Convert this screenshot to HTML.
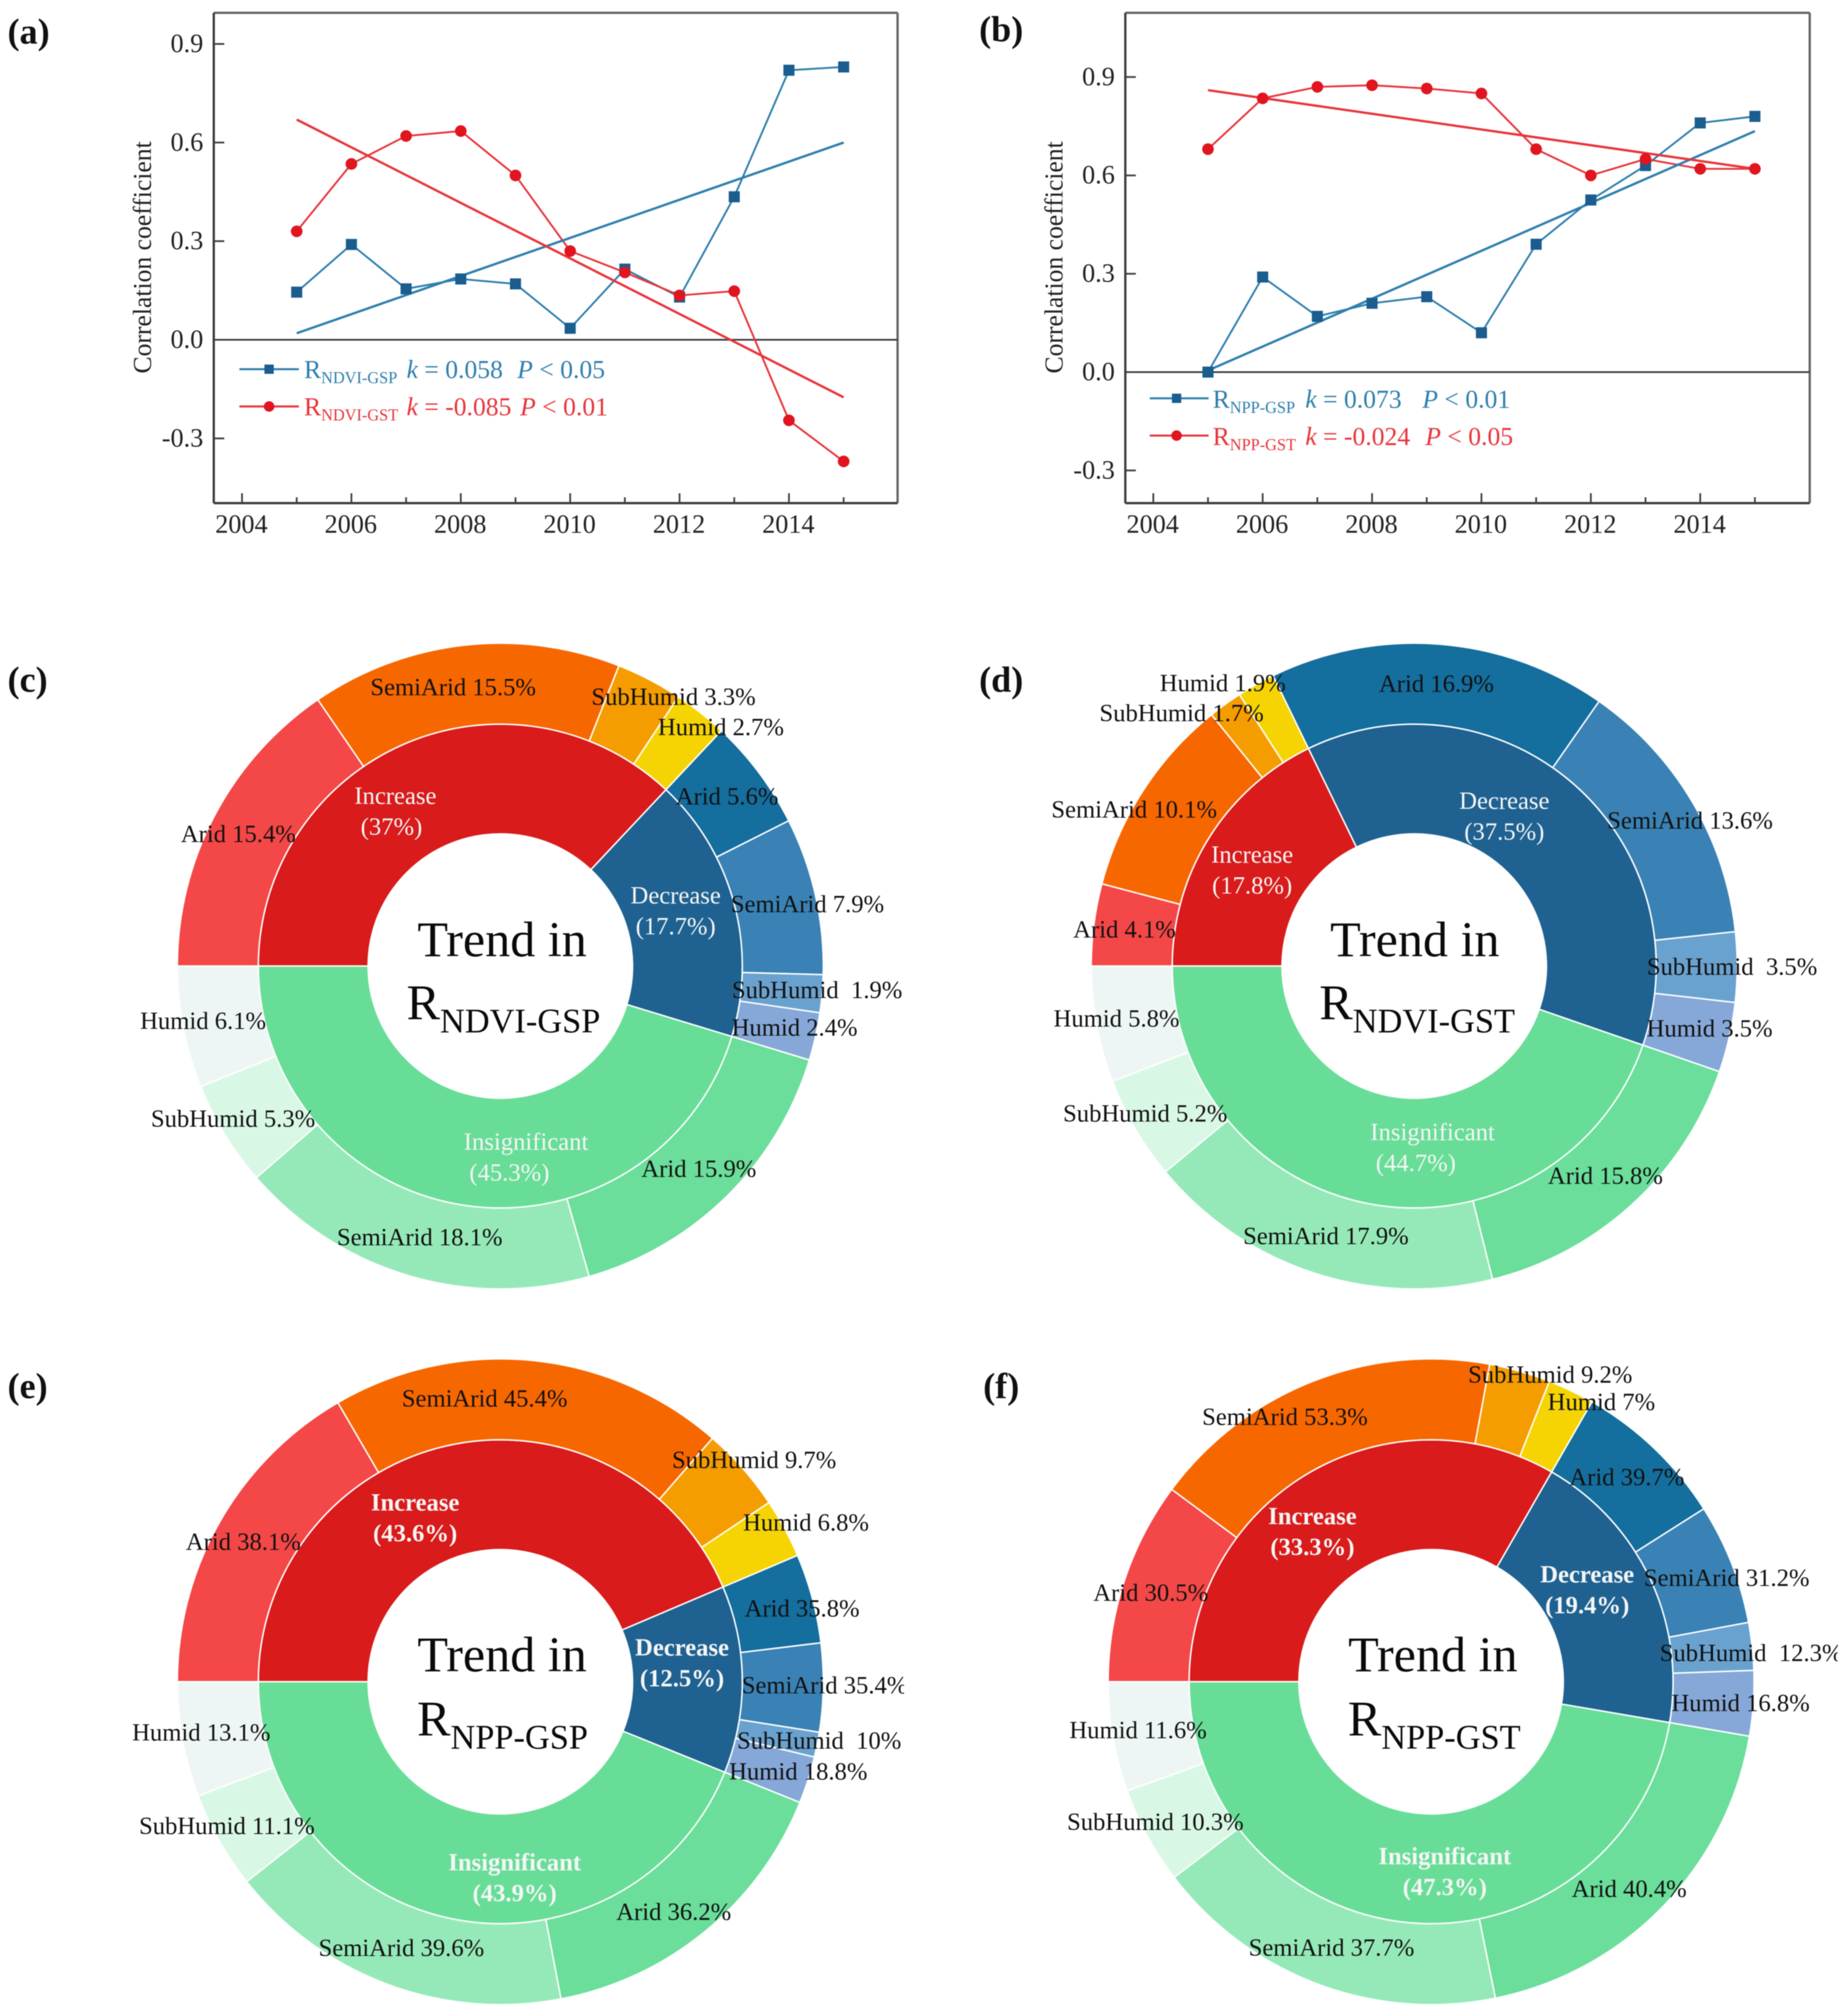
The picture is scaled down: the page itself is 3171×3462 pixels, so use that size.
<!DOCTYPE html>
<html lang="en">
<head>
<meta charset="utf-8">
<title>Correlation coefficient trends and trend composition donuts</title>
<style>
html,body{margin:0;padding:0;background:#fff;}
svg{display:block;font-family:"Liberation Serif",serif;filter:blur(0.8px);}
.tick{font-size:45px;fill:#222;}
.panel{font-size:62px;font-weight:bold;fill:#111;}
.leg{font-size:44px;}
.sub{font-size:28px;}
.outer-label{font-size:42.3px;fill:#111;white-space:pre;text-anchor:middle;dominant-baseline:central;}
.inner-label{font-size:42.3px;fill:#f6f6f6;text-anchor:middle;dominant-baseline:central;}
.center{font-size:86px;fill:#0a0a0a;}
.center-sub{font-size:59px;}
</style>
</head>
<body>
<svg id="figure" xmlns="http://www.w3.org/2000/svg" width="3171" height="3462" viewBox="0 0 3171 3462">
  <defs>
    <clipPath id="left-clip"><rect x="0" y="0" width="1552" height="3462"/></clipPath>
    <clipPath id="right-clip"><rect x="1600" y="0" width="1555" height="3462"/></clipPath>
  </defs>
  <rect x="0" y="0" width="3171" height="3462" fill="#ffffff"/>

  <text class="panel" x="13" y="75">(a)</text>
  <text class="panel" x="1681" y="71">(b)</text>
  <text class="panel" x="13" y="1188">(c)</text>
  <text class="panel" x="1681" y="1188">(d)</text>
  <text class="panel" x="13" y="2401">(e)</text>
  <text class="panel" x="1688" y="2401">(f)</text>

  <g id="chart-a"></g>
  <g id="chart-b"></g>

  <g>
    <text class="leg" x="522" y="649" fill="#2f7fae">R<tspan class="sub" dy="9">NDVI-GSP</tspan><tspan x="698" y="649" font-style="italic">k</tspan> = 0.058<tspan x="888" font-style="italic">P</tspan> &lt; 0.05</text>
    <text class="leg" x="522" y="713" fill="#e8353b">R<tspan class="sub" dy="9">NDVI-GST</tspan><tspan x="698" y="713" font-style="italic">k</tspan> = -0.085<tspan x="893" font-style="italic">P</tspan> &lt; 0.01</text>
    <line x1="411" y1="634" x2="513" y2="634" stroke="#2f7fae" stroke-width="3.5"/>
    <rect x="454" y="626" width="16" height="16" fill="#1a5d8e"/>
    <line x1="411" y1="698" x2="513" y2="698" stroke="#e8353b" stroke-width="3.5"/>
    <circle cx="462" cy="698" r="9" fill="#e0151f"/>
  </g>
  <g>
    <text class="leg" x="2082" y="700" fill="#2f7fae">R<tspan class="sub" dy="9">NPP-GSP</tspan><tspan x="2241" y="700" font-style="italic">k</tspan> = 0.073<tspan x="2442" font-style="italic">P</tspan> &lt; 0.01</text>
    <text class="leg" x="2082" y="764" fill="#e8353b">R<tspan class="sub" dy="9">NPP-GST</tspan><tspan x="2241" y="764" font-style="italic">k</tspan> = -0.024<tspan x="2447" font-style="italic">P</tspan> &lt; 0.05</text>
    <line x1="1974" y1="684" x2="2075" y2="684" stroke="#2f7fae" stroke-width="3.5"/>
    <rect x="2012" y="676" width="16" height="16" fill="#1a5d8e"/>
    <line x1="1974" y1="748" x2="2075" y2="748" stroke="#e8353b" stroke-width="3.5"/>
    <circle cx="2020" cy="748" r="9" fill="#e0151f"/>
  </g>

  <g id="donut-c"></g>
  <g id="donut-d"></g>
  <g id="donut-e"></g>
  <g id="donut-f"></g>

  <g>
    <text class="center" x="862" y="1642" text-anchor="middle">Trend in</text>
    <text class="center" x="698" y="1750">R<tspan class="center-sub" dy="23">NDVI-GSP</tspan></text>
  </g>
  <g>
    <text class="center" x="2429" y="1642" text-anchor="middle">Trend in</text>
    <text class="center" x="2265" y="1750">R<tspan class="center-sub" dy="23">NDVI-GST</tspan></text>
  </g>
  <g>
    <text class="center" x="862" y="2870" text-anchor="middle">Trend in</text>
    <text class="center" x="716" y="2980">R<tspan class="center-sub" dy="23">NPP-GSP</tspan></text>
  </g>
  <g>
    <text class="center" x="2460" y="2870" text-anchor="middle">Trend in</text>
    <text class="center" x="2314" y="2980">R<tspan class="center-sub" dy="23">NPP-GST</tspan></text>
  </g>
</svg>

<script>
// ---- line chart data ----
const years = [2005,2006,2007,2008,2009,2010,2011,2012,2013,2014,2015];
const xMajorTicks = [2004,2006,2008,2010,2012,2014];
const xMinorTicks = [2005,2007,2009,2011,2013,2015];
const yTicks = [-0.3,0,0.3,0.6,0.9];
const trendYears = [2005,2015];

const ndviGsp = [0.145,0.29,0.155,0.185,0.17,0.035,0.215,0.13,0.435,0.82,0.83];
const ndviGst = [0.33,0.535,0.62,0.635,0.5,0.27,0.205,0.135,0.148,-0.245,-0.37];
const ndviGspTrend = [0.02,0.6];
const ndviGstTrend = [0.67,-0.175];

const nppGsp = [0,0.29,0.17,0.21,0.23,0.12,0.39,0.525,0.63,0.76,0.78];
const nppGst = [0.68,0.835,0.87,0.875,0.865,0.85,0.68,0.6,0.65,0.62,0.62];
const nppGspTrend = [0.005,0.735];
const nppGstTrend = [0.86,0.62];

// ---- donut data ----
const climateZones = ['Arid','SemiArid','SubHumid','Humid'];
const trendClasses = ['Increase','Decrease','Insignificant'];

const cTrend = [37,17.7,45.3];
const cIncrease = [15.4,15.5,3.3,2.7];
const cDecrease = [5.6,7.9,1.9,2.4];
const cInsignificant = [15.9,18.1,5.3,6.1];

const dTrend = [17.8,37.5,44.7];
const dIncrease = [4.1,10.1,1.7,1.9];
const dDecrease = [16.9,13.6,3.5,3.5];
const dInsignificant = [15.8,17.9,5.2,5.8];

const eTrend = [43.6,12.5,43.9];
const eIncrease = [38.1,45.4,9.7,6.8];
const eDecrease = [35.8,35.4,10,18.8];
const eInsignificant = [36.2,39.6,11.1,13.1];

const fTrend = [33.3,19.4,47.3];
const fIncrease = [30.5,53.3,9.2,7];
const fDecrease = [39.7,31.2,12.3,16.8];
const fInsignificant = [40.4,37.7,10.3,11.6];

// ---- helpers ----
const SVGNS = 'http://www.w3.org/2000/svg';
function make(parent, tag, attrs, text) {
  const el = document.createElementNS(SVGNS, tag);
  for (const k in attrs) el.setAttribute(k, attrs[k]);
  if (text !== undefined) el.textContent = text;
  parent.appendChild(el);
  return el;
}
const AXIS = '#3f3f3f', AXIS_LIGHT = '#666666';
const BLUE = '#2f7fae', BLUE_DARK = '#1a5d8e', RED = '#e8353b', RED_DARK = '#e0151f';

function drawLineChart(rootId, frame, seriesGsp, seriesGst, trendGsp, trendGst, tag) {
  const root = document.getElementById(rootId);
  const x = v => frame.x2004 + (v - 2004) * frame.perYear;
  const y = v => frame.y0 - v * frame.perUnit;

  let el = make(root, 'line', {x1: frame.left, x2: frame.right, y1: frame.top, y2: frame.top, stroke: AXIS_LIGHT, 'stroke-width': 4});
  
  

  el = make(root, 'line', {x1: frame.right, x2: frame.right, y1: frame.top, y2: frame.bottom, stroke: AXIS_LIGHT, 'stroke-width': 4});
  
  

  el = make(root, 'line', {x1: frame.left, x2: frame.left, y1: frame.top, y2: frame.bottom, stroke: AXIS, 'stroke-width': 4});
  
  

  el = make(root, 'line', {x1: frame.left, x2: frame.right, y1: frame.bottom, y2: frame.bottom, stroke: AXIS, 'stroke-width': 4});
  
  

  el = make(root, 'line', {x1: frame.left, x2: frame.right, y1: y(0), y2: y(0), stroke: AXIS, 'stroke-width': 3});
  
  

  xMajorTicks.forEach(v => {
    const t = make(root, 'line', {x1: x(v), x2: x(v), y1: frame.bottom, y2: frame.bottom - 17, stroke: AXIS, 'stroke-width': 3});
    
    
    const l = make(root, 'text', {class: 'tick', x: x(v) - 1, y: frame.bottom + 51, 'text-anchor': 'middle'}, String(v));
    
    
  });
  xMinorTicks.forEach(v => {
    const t = make(root, 'line', {x1: x(v), x2: x(v), y1: frame.bottom, y2: frame.bottom - 10, stroke: AXIS, 'stroke-width': 3});
    
    
  });
  yTicks.forEach(v => {
    const t = make(root, 'line', {x1: frame.left, x2: frame.left + 18, y1: y(v), y2: y(v), stroke: AXIS, 'stroke-width': 3});
    
    
    const l = make(root, 'text', {class: 'tick', x: frame.left - 18, y: y(v) + 14, 'text-anchor': 'end'}, v.toFixed(1));
    
    
  });

  const titleX = frame.left - 108;
  el = make(root, 'text', {x: titleX, y: frame.titleY, 'font-size': 44, fill: '#222', 'text-anchor': 'middle', transform: 'rotate(-90 ' + titleX + ' ' + frame.titleY + ')'}, 'Correlation coefficient');
  
  

  const poly = vals => vals.map((v, i) => x(years[i]) + ',' + y(v)).join(' ');

  el = make(root, 'polyline', {points: poly(seriesGsp), fill: 'none', stroke: BLUE, 'stroke-width': 3.2});
  
  

  el = make(root, 'polyline', {points: poly(seriesGst), fill: 'none', stroke: RED, 'stroke-width': 3.2});
  
  

  el = make(root, 'line', {x1: x(trendYears[0]), y1: y(trendGsp[0]), x2: x(trendYears[1]), y2: y(trendGsp[1]), stroke: BLUE, 'stroke-width': 4});
  
  

  el = make(root, 'line', {x1: x(trendYears[0]), y1: y(trendGst[0]), x2: x(trendYears[1]), y2: y(trendGst[1]), stroke: RED, 'stroke-width': 4});
  
  

  seriesGsp.forEach((v, i) => {
    const m = make(root, 'rect', {x: x(years[i]) - 9.5, y: y(v) - 9.5, width: 19, height: 19, fill: BLUE_DARK});
    
    
  });
  seriesGst.forEach((v, i) => {
    const m = make(root, 'circle', {cx: x(years[i]), cy: y(v), r: 10, fill: RED_DARK});
    
    
  });
}

drawLineChart('chart-a', {left: 367, right: 1541, top: 22, bottom: 864, x2004: 415.5, perYear: 93.9, y0: 583.5, perUnit: 564.5, titleY: 442}, ndviGsp, ndviGst, ndviGspTrend, ndviGstTrend, 'ndvi');
drawLineChart('chart-b', {left: 1932, right: 3107, top: 22, bottom: 864, x2004: 1980, perYear: 93.9, y0: 639, perUnit: 563, titleY: 442}, nppGsp, nppGst, nppGspTrend, nppGstTrend, 'npp');

// ---- donuts ----
const RING = {hole: 227, mid: 415.5, outer: 554.5};
const LABEL_R_OUTER = 486, LABEL_R_INNER = 323;
const innerColors = ['#d91b1b','#1f6291','#68dd97'];
const outerColors = [
  ['#f44747','#f76700','#f59d00','#f6d404'],
  ['#146e9e','#3a82b5','#6aa2cf','#86a8d8'],
  ['#6ade9a','#95e9b8','#d9f7e5','#eef6f5']
];

// Hand placement of the labels relative to their slice, layout only (overview units).
const U = 2.21;
const nudgeC = {outer: [[-9,0],[-12,2],[33,-14],[35,-13],[0,0],[24,0],[27,0],[14,0],[0,1],[0,0],[-20,4],[-15,1]], inner: [[-25,14,1.5],[-5,-5,0],[35,4,6.5]]};
const nudgeD = {outer: [[-7,0],[-33,-2],[-52,-18],[-41,-28],[0,0],[25,-1],[27,0],[15,0],[0,1],[0,1],[-19,4],[-15,1]], inner: [[-2,3,0],[-27,-7,0],[32,-3,6.5]]};
const nudgeE = {outer: [[-9,1],[-33,-1],[32,-27],[44,-19],[22,0],[32,-1],[32,3],[22,3],[-5,9],[0,1],[-21,4],[-16,0]], inner: [[-37,16,0],[-5,-13,0],[39,9,0]]};
const nudgeF = {outer: [[-9,0],[-33,-1],[32,-27],[37,-19],[0,0],[25,0],[30,2],[21,2],[-4,8],[0,1],[-21,4],[-11,0]], inner: [[-19,10,0],[-11,-9,0],[23,2,0]]};

function polar(cx, cy, r, f) {
  const a = 2 * Math.PI * f;
  return [cx - r * Math.cos(a), cy - r * Math.sin(a)];
}
function sector(cx, cy, r0, r1, f0, f1) {
  const large = (f1 - f0) > 0.5 ? 1 : 0;
  const p0 = polar(cx, cy, r1, f0), p1 = polar(cx, cy, r1, f1);
  const p2 = polar(cx, cy, r0, f1), p3 = polar(cx, cy, r0, f0);
  return 'M' + p0.join(' ') + 'A' + r1 + ' ' + r1 + ' 0 ' + large + ' 1 ' + p1.join(' ') +
         'L' + p2.join(' ') + 'A' + r0 + ' ' + r0 + ' 0 ' + large + ' 0 ' + p3.join(' ') + 'Z';
}
function sum(a) { return a.reduce((s, v) => s + v, 0); }

function drawDonut(rootId, cx, cy, trend, groups, nudge, bold, clipId) {
  const root = document.getElementById(rootId);
  const total = sum(trend);
  const labels = document.createElementNS(SVGNS, 'g');
  
  
  let f = 0, labelIndex = 0;
  trend.forEach((tv, g) => {
    const span = tv / total;
    const p = make(root, 'path', {d: sector(cx, cy, RING.hole, RING.mid, f, f + span), fill: innerColors[g], stroke: '#ffffff', 'stroke-width': 2.5});
    
    

    const inn = nudge.inner[g];
    const ip = polar(cx, cy, LABEL_R_INNER, f + span / 2);
    const ix = ip[0] + inn[0] * U, iy = ip[1] + inn[1] * U;
    const t1 = make(labels, 'text', {class: 'inner-label', x: ix + inn[2] * U, y: iy - 26.5, 'font-weight': bold ? 'bold' : 'normal'}, trendClasses[g]);
    
    
    const t2 = make(labels, 'text', {class: 'inner-label', x: ix - inn[2] * U, y: iy + 26.5, 'font-weight': bold ? 'bold' : 'normal'}, '(' + tv + '%)');
    
    

    const vals = groups[g], gsum = sum(vals);
    let fo = f;
    vals.forEach((v, i) => {
      const s = span * v / gsum;
      const q = make(root, 'path', {d: sector(cx, cy, RING.mid, RING.outer, fo, fo + s), fill: outerColors[g][i], stroke: '#ffffff', 'stroke-width': 2.5});
      
      

      const n = nudge.outer[labelIndex++];
      const lp = polar(cx, cy, LABEL_R_OUTER, fo + s / 2);
      const gap = (g === 1 && i === 2) ? '  ' : ' ';
      const attrs = {class: 'outer-label', x: lp[0] + n[0] * U, y: lp[1] + n[1] * U};
      const lab = make(labels, 'text', attrs, climateZones[i] + gap + v + '%');
      
      
      fo += s;
    });
    f += span;
  });
  labels.setAttribute('clip-path', 'url(#' + clipId + ')');
  root.appendChild(labels);
}

drawDonut('donut-c', 859, 1659, cTrend, [cIncrease, cDecrease, cInsignificant], nudgeC, false, 'left-clip');
drawDonut('donut-d', 2428, 1659, dTrend, [dIncrease, dDecrease, dInsignificant], nudgeD, false, 'right-clip');
drawDonut('donut-e', 859, 2888, eTrend, [eIncrease, eDecrease, eInsignificant], nudgeE, true, 'left-clip');
drawDonut('donut-f', 2457, 2888, fTrend, [fIncrease, fDecrease, fInsignificant], nudgeF, true, 'right-clip');
</script>
</body>
</html>
